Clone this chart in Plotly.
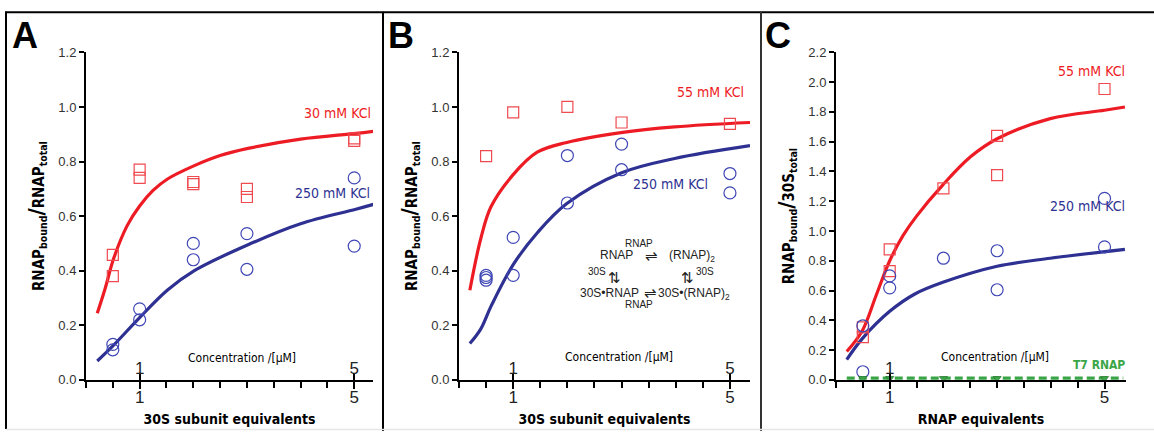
import plotly.graph_objects as go

# ---------------- data ----------------
pts_x = [0.5, 0.5, 1, 1, 2, 2, 3, 3, 5, 5]

# Panel A
a_red_y = [0.458, 0.38, 0.77, 0.74, 0.725, 0.717, 0.70, 0.67, 0.885, 0.876]
a_blue_y = [0.13, 0.11, 0.26, 0.22, 0.50, 0.44, 0.536, 0.405, 0.74, 0.49]
a_red_fit_x = [0.21, 0.35, 0.52, 0.77, 1.0, 1.25, 1.52, 2.02, 2.5, 3.02, 4.0, 5.03, 5.36]
a_red_fit_y = [0.244, 0.33, 0.447, 0.566, 0.637, 0.694, 0.736, 0.785, 0.822, 0.848, 0.882, 0.903, 0.911]
a_blue_fit_x = [0.21, 0.52, 1.0, 1.52, 2.02, 3.02, 4.0, 5.03, 5.36]
a_blue_fit_y = [0.069, 0.128, 0.228, 0.329, 0.40, 0.495, 0.572, 0.625, 0.643]

# Panel B
b_red_x = [0.5, 1, 2, 3, 5]
b_red_y = [0.82, 0.98, 1.0, 0.943, 0.938]
b_blue_x = [0.5, 0.5, 0.5, 1, 1, 2, 2, 3, 3, 5, 5]
b_blue_y = [0.383, 0.365, 0.375, 0.522, 0.383, 0.822, 0.648, 0.864, 0.77, 0.756, 0.685]
b_red_fit_x = [0.2, 0.4, 0.59, 1.0, 1.45, 1.99, 2.99, 3.98, 5.37]
b_red_fit_y = [0.328, 0.516, 0.634, 0.752, 0.835, 0.87, 0.906, 0.927, 0.943]
b_blue_fit_x = [0.2, 0.4, 0.59, 1.0, 1.45, 1.99, 2.99, 3.98, 5.37]
b_blue_fit_y = [0.133, 0.186, 0.269, 0.422, 0.54, 0.646, 0.758, 0.811, 0.858]

# Panel C
c_red_x = [0.5, 0.5, 1, 1, 2, 3, 3, 5]
c_red_y = [0.352, 0.287, 0.877, 0.73, 1.286, 1.639, 1.375, 1.954]
c_blue_x = [0.5, 0.5, 1, 1, 2, 3, 3, 5, 5]
c_blue_y = [0.363, 0.054, 0.698, 0.618, 0.817, 0.867, 0.605, 1.219, 0.893]
c_t7_x = [0.5, 1, 2, 3, 5]
c_t7_y = [0.01, 0.01, 0.01, 0.01, 0.01]
c_t7_fit_x = [0.2, 5.35]
c_t7_fit_y = [0.01, 0.01]
c_red_fit_x = [0.2, 0.49, 0.75, 1.0, 1.25, 1.5, 1.99, 2.51, 3.0, 3.99, 5.0, 5.38]
c_red_fit_y = [0.19, 0.33, 0.57, 0.80, 0.97, 1.10, 1.31, 1.50, 1.62, 1.755, 1.811, 1.833]
c_blue_fit_x = [0.2, 0.49, 1.0, 1.46, 1.99, 3.0, 3.99, 5.38]
c_blue_fit_y = [0.136, 0.277, 0.46, 0.575, 0.655, 0.763, 0.817, 0.877]

x_ticks = [1, 5]
x_ticktext = ["1", "5"]
conc_ticks = [[1, 5], [1, 5], [1]]
conc_ticktext = [["1", "5"], ["1", "5"], ["1"]]

# ---------------- style ----------------
RED_LINE = "#ed1c24"
RED_MK = "#ef4a50"
BLUE_LINE = "#2e3192"
BLUE_MK = "#3f47b5"
GREEN = "#3aa547"
NARROW = "DejaVu Sans Condensed, Liberation Sans Narrow, Arial Narrow, sans-serif"
ARIAL = "Liberation Sans, Arial, sans-serif"

W, H = 1154, 439
def px(x):
    return x / W
def py(y):
    return 1 - y / H

fig = go.Figure()

def add_panel(ax, red_x, red_y, blue_x, blue_y, rfx, rfy, bfx, bfy):
    xa = "x" if ax == 1 else f"x{ax}"
    ya = "y" if ax == 1 else f"y{ax}"
    fig.add_trace(go.Scatter(x=rfx, y=rfy, mode="lines", line=dict(color=RED_LINE, width=3.2, shape="spline"),
                             xaxis=xa, yaxis=ya, showlegend=False, hoverinfo="skip"))
    fig.add_trace(go.Scatter(x=bfx, y=bfy, mode="lines", line=dict(color=BLUE_LINE, width=3.2, shape="spline"),
                             xaxis=xa, yaxis=ya, showlegend=False, hoverinfo="skip"))
    fig.add_trace(go.Scatter(x=red_x, y=red_y, mode="markers",
                             marker=dict(symbol="square-open", size=11, color=RED_MK, line=dict(width=1.2)),
                             xaxis=xa, yaxis=ya, showlegend=False))
    fig.add_trace(go.Scatter(x=blue_x, y=blue_y, mode="markers",
                             marker=dict(symbol="circle-open", size=12, color=BLUE_MK, line=dict(width=1.2)),
                             xaxis=xa, yaxis=ya, showlegend=False))

add_panel(1, pts_x, a_red_y, pts_x, a_blue_y, a_red_fit_x, a_red_fit_y, a_blue_fit_x, a_blue_fit_y)
add_panel(2, b_red_x, b_red_y, b_blue_x, b_blue_y, b_red_fit_x, b_red_fit_y, b_blue_fit_x, b_blue_fit_y)
add_panel(3, c_red_x, c_red_y, c_blue_x, c_blue_y, c_red_fit_x, c_red_fit_y, c_blue_fit_x, c_blue_fit_y)

fig.add_trace(go.Scatter(x=c_t7_fit_x, y=c_t7_fit_y, mode="lines",
                         line=dict(color=GREEN, width=3.5, dash="8px,4px"),
                         xaxis="x3", yaxis="y3", showlegend=False, hoverinfo="skip"))
fig.add_trace(go.Scatter(x=c_t7_x, y=c_t7_y, mode="markers",
                         marker=dict(symbol="triangle-down", size=7, color=GREEN, line=dict(color="#2b7a34", width=0.8)),
                         xaxis="x3", yaxis="y3", showlegend=False))

y_dom = [py(386), py(47)]
x_doms = [[px(86), px(373)], [px(459), px(750)], [px(836), px(1126)]]
x_ranges = [[0.0, 5.35], [0.0, 5.37], [0.0, 5.4]]
y_ranges = [[0, 1.2], [0, 1.2], [0, 2.2]]
x_titles = ["30S subunit equivalents", "30S subunit equivalents", "RNAP equivalents"]
y_titles = ["RNAP<sub>bound</sub><span style='font-size:22px'>/</span>RNAP<sub>total</sub>",
            "RNAP<sub>bound</sub><span style='font-size:22px'>/</span>RNAP<sub>total</sub>",
            "RNAP<sub>bound</sub><span style='font-size:22px'>/</span>30S<sub>total</sub>"]

layout = dict(width=W, height=H, margin=dict(l=0, r=0, t=0, b=0),
              paper_bgcolor="white", plot_bgcolor="white", showlegend=False)

for i in range(3):
    n = i + 1
    xk = "xaxis" if n == 1 else f"xaxis{n}"
    yk = "yaxis" if n == 1 else f"yaxis{n}"
    ya = "y" if n == 1 else f"y{n}"
    xa = "x" if n == 1 else f"x{n}"
    layout[xk] = dict(domain=x_doms[i], range=x_ranges[i], anchor=ya,
                      showline=True, linecolor="black", linewidth=2,
                      tickmode="array", tickvals=x_ticks, ticktext=x_ticktext,
                      ticks="outside", ticklen=7, tickwidth=1.5, tickcolor="black",
                      ticklabelstandoff=-6,
                      minor=dict(tickmode="linear", tick0=0, dtick=0.5, ticks="outside",
                                 ticklen=6, tickwidth=1.5, tickcolor="black", showgrid=False),
                      tickfont=dict(family=ARIAL, size=17, color="#222"),
                      showgrid=False, zeroline=False,
                      title=dict(text="<b>" + x_titles[i] + "</b>", standoff=8,
                                 font=dict(family=NARROW, size=14, color="black")))
    layout[yk] = dict(domain=y_dom, range=y_ranges[i], anchor=xa,
                      showline=True, linecolor="black", linewidth=2,
                      dtick=0.2, tick0=0, tickformat=".1f",
                      ticks="outside", ticklen=5, tickwidth=1.5, tickcolor="black",
                      tickfont=dict(family=ARIAL, size=13, color="#333"),
                      showgrid=False, zeroline=False,
                      title=dict(text="<b>" + y_titles[i] + "</b>", standoff=10,
                                 font=dict(family=NARROW, size=15, color="black")))
    # concentration axis (labels above the line)
    ck = f"xaxis{n + 3}"
    layout[ck] = dict(overlaying=xa, anchor="free", position=y_dom[0], side="top", range=x_ranges[i],
                      tickmode="array", tickvals=conc_ticks[i], ticktext=conc_ticktext[i],
                      ticks="outside", ticklen=7, tickwidth=1.5, tickcolor="black",
                      ticklabelstandoff=-8,
                      tickfont=dict(family=ARIAL, size=17, color="#222"),
                      showline=False, showgrid=False, zeroline=False)

fig.update_layout(**layout)

# invisible traces to make concentration axes render
for n in range(3):
    fig.add_trace(go.Scatter(x=[1, 5], y=[None, None], xaxis=f"x{n + 4}",
                             yaxis="y" if n == 0 else f"y{n + 1}", showlegend=False, hoverinfo="skip"))

ann = []
def A(text, x, y, size, color="black", family=NARROW, xanchor="center", yanchor="middle", bold=False):
    t = f"<b>{text}</b>" if bold else text
    ann.append(dict(text=t, x=px(x), y=py(y), xref="paper", yref="paper", showarrow=False,
                    xanchor=xanchor, yanchor=yanchor, font=dict(family=family, size=size, color=color)))

# panel letters
A("A", 10, 29, 36, family=ARIAL, xanchor="left", bold=True)
A("B", 386, 30, 36, family=ARIAL, xanchor="left", bold=True)
A("C", 763, 30, 36, family=ARIAL, xanchor="left", bold=True)

# concentration labels
A("Concentration /[µM]", 242, 363, 12)
A("Concentration /[µM]", 619, 362, 12)
A("Concentration /[µM]", 995, 362, 12)

# series labels
A("30 mM KCl", 373, 110, 14, RED_LINE, xanchor="right")
A("250 mM KCl", 372, 193, 14, BLUE_LINE, xanchor="right")
A("55 mM KCl", 746, 88, 14, RED_LINE, xanchor="right")
A("250 mM KCl", 710, 183, 14, BLUE_LINE, xanchor="right")
A("55 mM KCl", 1127, 66, 14, RED_LINE, xanchor="right")
A("250 mM KCl", 1127, 206, 14, BLUE_LINE, xanchor="right")
A("T7 RNAP", 1127, 371, 12, GREEN, xanchor="right", bold=True)

# reaction scheme in panel B
A("RNAP", 639, 245, 10, "#222", ARIAL)
A("RNAP", 616, 257, 12, "#222", ARIAL)
A("⇌", 651, 257, 15, "#222", ARIAL)
A("(RNAP)<sub>2</sub>", 692, 258, 12, "#222", ARIAL)
A("30S", 597, 274, 10, "#222", ARIAL)
A("⇅", 614, 280, 15, "#222", ARIAL)
A("⇅", 687, 280, 15, "#222", ARIAL)
A("30S", 705, 274, 10, "#222", ARIAL)
A("30S•RNAP", 609, 296, 12, "#222", ARIAL)
A("⇌", 650, 296, 15, "#222", ARIAL)
A("30S•(RNAP)<sub>2</sub>", 694, 297, 12, "#222", ARIAL)
A("RNAP", 639, 308, 10, "#222", ARIAL)

shapes = [
    dict(type="line", xref="paper", yref="paper", x0=px(5), x1=1, y0=py(5.5), y1=py(5.5), line=dict(color="black", width=2)),
    dict(type="line", xref="paper", yref="paper", x0=px(6), x1=px(6), y0=py(5), y1=py(437), line=dict(color="black", width=2)),
    dict(type="line", xref="paper", yref="paper", x0=px(383), x1=px(383), y0=py(5), y1=py(439), line=dict(color="black", width=2)),
    dict(type="line", xref="paper", yref="paper", x0=px(761), x1=px(761), y0=py(5), y1=py(439), line=dict(color="#333", width=2)),
    dict(type="line", xref="paper", yref="paper", x0=px(6), x1=1, y0=py(437.5), y1=py(437.5), line=dict(color="#e6e6e6", width=1.5)),
]
fig.update_layout(annotations=ann, shapes=shapes)

pin = ("document.body.style.margin='0px';"
       "var gd=document.getElementById('{plot_id}');"
       "gd.style.position='absolute';gd.style.left='0px';gd.style.top='0px';")
fig.write_html("out.html", post_script=pin, config={"displayModeBar": False})
